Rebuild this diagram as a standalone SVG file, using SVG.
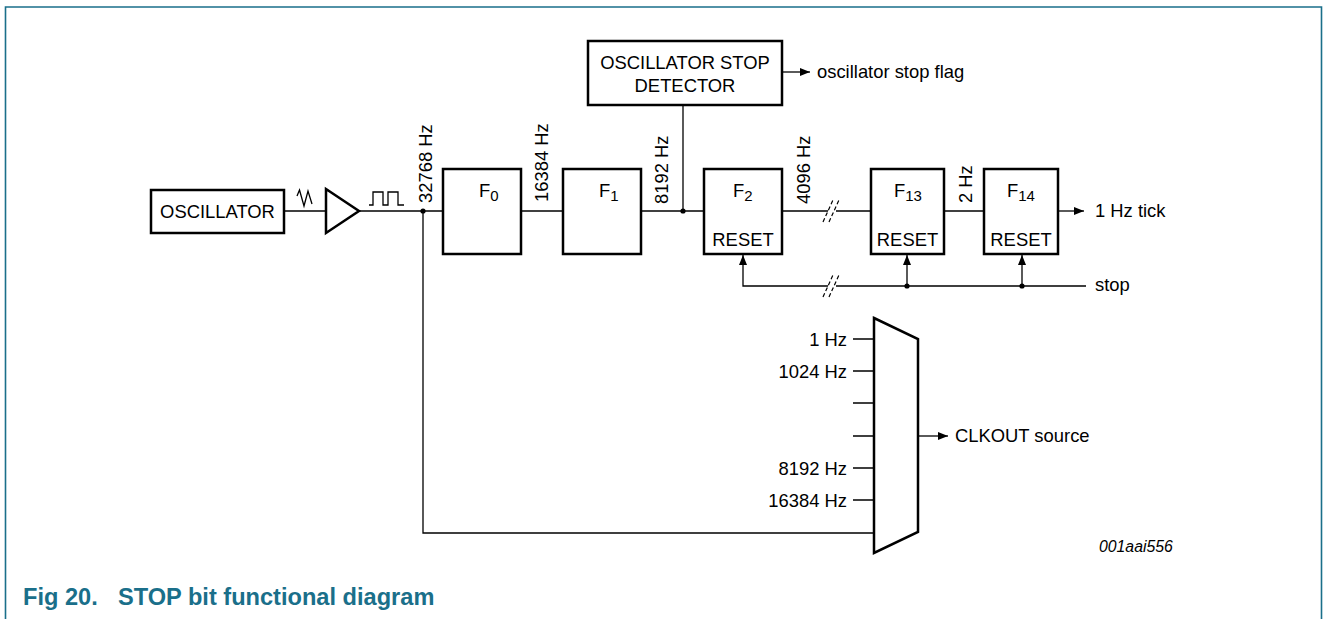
<svg xmlns="http://www.w3.org/2000/svg" width="1328" height="619" viewBox="0 0 1328 619">
<defs>
<marker id="arr" viewBox="0 0 10 8" refX="10" refY="4" markerWidth="10" markerHeight="8" markerUnits="userSpaceOnUse" orient="auto">
<path d="M0,0 L10,4 L0,8 Z" fill="#000"/>
</marker>
<style>
.box{fill:#fff;stroke:#000;stroke-width:2.5}
.ln{fill:none;stroke:#000;stroke-width:1.3}
.t{font-family:"Liberation Sans",Arial,sans-serif;font-size:18.4px;fill:#000}
.sub{font-size:15px}
.brk{stroke:#000;stroke-width:1.2;stroke-dasharray:4 2.5}
.dot{fill:#000}
.cap{font-family:"Liberation Sans",Arial,sans-serif;font-size:23.6px;font-weight:bold;fill:#1a6f8a}
</style>
</defs>
<rect width="1328" height="619" fill="#fff"/>
<path d="M5.5,619 V7 H1321.5 V619" fill="none" stroke="#1a6f8a" stroke-width="1.6"/>

<g id="connectors">
<path class="ln" d="M284,211 H326"/>
<path class="ln" d="M359,211 H443"/>
<path class="ln" d="M521,211 H563"/>
<path class="ln" d="M641,211 H704"/>
<path class="ln" d="M782,211 H828 M836,211 H871"/>
<path class="ln" d="M944,211 H984"/>
<path class="ln" d="M1058,211 H1084" marker-end="url(#arr)"/>
<path class="ln" d="M683,105 V211"/>
<path class="ln" d="M782,72 H810" marker-end="url(#arr)"/>
<path class="ln" d="M423,211 V533 H874"/>
<path class="ln" d="M1086,286 H836 M828,286 H743 V255" marker-end="url(#arr)"/>
<path class="ln" d="M907,286 V255" marker-end="url(#arr)"/>
<path class="ln" d="M1022,286 V255" marker-end="url(#arr)"/>
<path class="ln" d="M918,436 H948" marker-end="url(#arr)"/>
<path class="ln" d="M853,339 H874 M853,371 H874 M853,403 H874 M853,436 H874 M853,468 H874 M853,500 H874"/>
<line class="brk" x1="823" y1="222" x2="833" y2="200"/>
<line class="brk" x1="829" y1="222" x2="839" y2="200"/>
<line class="brk" x1="823" y1="297" x2="833" y2="275"/>
<line class="brk" x1="829" y1="297" x2="839" y2="275"/>
<circle class="dot" cx="423" cy="211" r="2.6"/>
<circle class="dot" cx="683" cy="211" r="2.6"/>
<circle class="dot" cx="907" cy="286" r="2.6"/>
<circle class="dot" cx="1022" cy="286" r="2.6"/>
</g>

<g id="oscillator">
<rect class="box" x="151" y="190" width="133" height="43"/>
<text class="t" x="217.5" y="218" text-anchor="middle">OSCILLATOR</text>
</g>
<g id="sine">
<path class="ln" d="M297,196 L299.5,190 L304,206 L308,191 L312,204"/>
</g>
<g id="buffer">
<path class="box" d="M326,189 L359,211 L326,233 Z"/>
</g>
<g id="square">
<path class="ln" d="M369,205 H373 V192 H383 V205 H388 V192 H398 V205 H404"/>
</g>
<g id="lbl32768"><text class="t" transform="translate(432,203) rotate(-90)">32768 Hz</text></g>

<g id="F0">
<rect class="box" x="443" y="169" width="78" height="85"/>
<text class="t" x="479" y="197">F<tspan class="sub" dy="3.5">0</tspan></text>
</g>
<g id="lbl16384"><text class="t" transform="translate(548,202) rotate(-90)">16384 Hz</text></g>

<g id="F1">
<rect class="box" x="563" y="169" width="78" height="85"/>
<text class="t" x="599" y="197">F<tspan class="sub" dy="3.5">1</tspan></text>
</g>
<g id="lbl8192"><text class="t" transform="translate(668,204) rotate(-90)">8192 Hz</text></g>

<g id="detector">
<rect class="box" x="588" y="41" width="194" height="64"/>
<text class="t" x="685" y="69" text-anchor="middle">OSCILLATOR STOP</text>
<text class="t" x="685" y="92" text-anchor="middle">DETECTOR</text>
</g>
<g id="lblflag"><text class="t" x="817" y="78">oscillator stop flag</text></g>

<g id="F2">
<rect class="box" x="704" y="169" width="78" height="85"/>
<text class="t" x="733" y="197">F<tspan class="sub" dy="3.5">2</tspan></text>
<text class="t" x="743" y="246" text-anchor="middle">RESET</text>
</g>
<g id="lbl4096"><text class="t" transform="translate(810,204) rotate(-90)">4096 Hz</text></g>

<g id="F13">
<rect class="box" x="871" y="169" width="73" height="85"/>
<text class="t" x="894" y="197">F<tspan class="sub" dy="3.5">13</tspan></text>
<text class="t" x="907.5" y="246" text-anchor="middle">RESET</text>
</g>
<g id="lbl2"><text class="t" transform="translate(972,203) rotate(-90)">2 Hz</text></g>

<g id="F14">
<rect class="box" x="984" y="169" width="74" height="85"/>
<text class="t" x="1007" y="197">F<tspan class="sub" dy="3.5">14</tspan></text>
<text class="t" x="1021" y="246" text-anchor="middle">RESET</text>
</g>
<g id="lbltick"><text class="t" x="1095" y="217">1 Hz tick</text></g>
<g id="lblstop"><text class="t" x="1095" y="291">stop</text></g>

<g id="mux">
<path class="box" d="M874,318 L918,339 L918,532 L874,553 Z"/>
<text class="t" x="847" y="346" text-anchor="end">1 Hz</text>
<text class="t" x="847" y="378" text-anchor="end">1024 Hz</text>
<text class="t" x="847" y="475" text-anchor="end">8192 Hz</text>
<text class="t" x="847" y="507" text-anchor="end">16384 Hz</text>
</g>
<g id="lblclkout"><text class="t" x="955" y="442">CLKOUT source</text></g>

<text x="1099" y="552" font-family="'Liberation Sans',Arial,sans-serif" font-size="15.8" font-style="italic" fill="#000">001aai556</text>
<text class="cap" x="23" y="605">Fig 20.</text>
<text class="cap" x="118" y="605">STOP bit functional diagram</text>
</svg>
